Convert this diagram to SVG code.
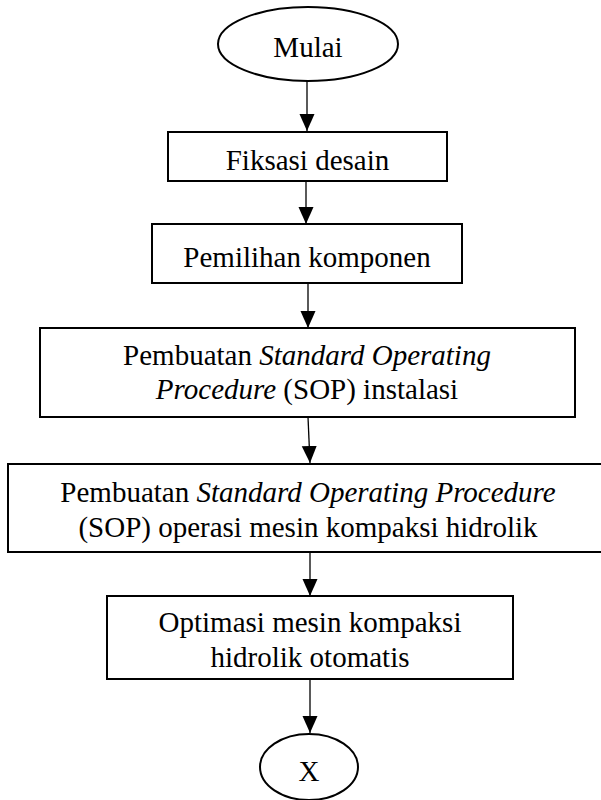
<svg xmlns="http://www.w3.org/2000/svg" width="601" height="800" viewBox="0 0 601 800">
  <style>
    .shape { fill: #ffffff; stroke: #000000; stroke-width: 2; }
    .label { font-family: 'Liberation Serif', 'DejaVu Serif', serif; font-size: 29px; fill: #000000; text-anchor: middle; }
    .it { font-style: italic; }
    .link { fill: none; stroke: #000000; stroke-width: 1.3; marker-end: url(#arrow); }
  </style>
  <defs>
    <marker id="arrow" markerUnits="userSpaceOnUse" markerWidth="18" markerHeight="16" refX="17" refY="7.5" orient="auto">
      <path d="M0,0 L17,7.5 L0,15 Z" fill="#000000"/>
    </marker>
  </defs>

  <rect width="601" height="800" fill="#ffffff"/>

  <!-- connectors -->
  <g id="connectors">
    <line class="link" x1="307" y1="81" x2="307" y2="131"/>
    <line class="link" x1="306" y1="181" x2="306" y2="224"/>
    <line class="link" x1="308" y1="283" x2="308" y2="328"/>
    <line class="link" x1="308" y1="417" x2="310" y2="463"/>
    <line class="link" x1="310" y1="552" x2="310" y2="596"/>
    <line class="link" x1="310" y1="679" x2="310" y2="733"/>
  </g>

  <!-- start terminator -->
  <g id="mulai">
    <ellipse class="shape" cx="308" cy="44" rx="90" ry="37"/>
    <text class="label" font-family="Liberation Serif" x="308" y="57">Mulai</text>
  </g>

  <g id="fiksasi-desain">
    <rect class="shape" x="168" y="132" width="279" height="49"/>
    <text class="label" x="307.5" y="170">Fiksasi desain</text>
  </g>

  <g id="pemilihan-komponen">
    <rect class="shape" x="152" y="224" width="310" height="59"/>
    <text class="label" x="307" y="267">Pemilihan komponen</text>
  </g>

  <g id="sop-instalasi">
    <rect class="shape" x="40" y="328" width="535" height="89"/>
    <text class="label" x="307" y="365">Pembuatan <tspan class="it">Standard Operating</tspan></text>
    <text class="label" x="307" y="399"><tspan class="it">Procedure</tspan> (SOP) instalasi</text>
  </g>

  <g id="sop-operasi">
    <rect class="shape" x="8" y="464" width="600" height="88"/>
    <text class="label" x="308" y="502">Pembuatan <tspan class="it">Standard Operating Procedure</tspan></text>
    <text class="label" x="308" y="537">(SOP) operasi mesin kompaksi hidrolik</text>
  </g>

  <g id="optimasi">
    <rect class="shape" x="107" y="596" width="406" height="83"/>
    <text class="label" x="310" y="632">Optimasi mesin kompaksi</text>
    <text class="label" x="310" y="667">hidrolik otomatis</text>
  </g>

  <!-- off-page connector -->
  <g id="x-connector">
    <ellipse class="shape" cx="309" cy="767" rx="49" ry="33"/>
    <text class="label" x="309" y="781">X</text>
  </g>
</svg>
